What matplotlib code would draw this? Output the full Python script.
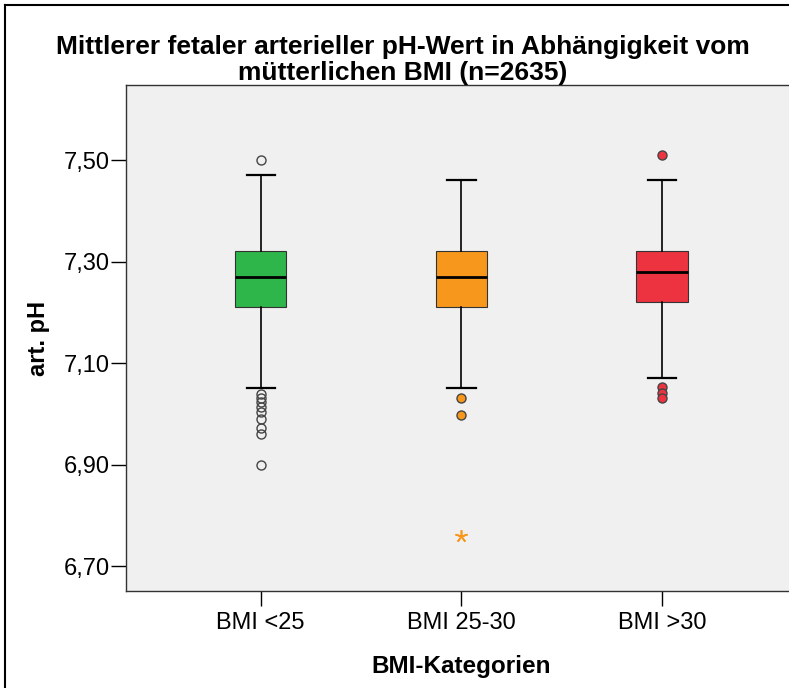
import matplotlib.pyplot as plt
from matplotlib.lines import Line2D

plt.rcParams['font.family'] = ['Liberation Sans', 'DejaVu Sans']

# Kategorien und Boxplot-Kennwerte (art. pH)
categories = ['BMI <25', 'BMI 25-30', 'BMI >30']
whislo = [7.05, 7.05, 7.07]
q1 = [7.21, 7.21, 7.22]
med = [7.27, 7.27, 7.28]
q3 = [7.32, 7.32, 7.32]
whishi = [7.47, 7.46, 7.46]
outliers = [
    [7.50, 7.039, 7.031, 7.023, 7.013, 7.003, 6.99, 6.972, 6.960, 6.899],
    [7.031, 6.998],
    [7.51, 7.052, 7.042, 7.032],
]
extremes = [[], [6.759], []]
colors = ['#2EB64A', '#F7981D', '#EE3340']
yticks = [6.70, 6.90, 7.10, 7.30, 7.50]

fig = plt.figure(figsize=(7.89, 6.88), dpi=100)
ax = fig.add_axes([126 / 789, 1 - 591 / 688, 1 - 126 / 789 + 0.01, (591 - 85) / 688])
ax.set_facecolor('#F0F0F0')

stats = []
for i in range(3):
    stats.append(dict(whislo=whislo[i], q1=q1[i], med=med[i], q3=q3[i],
                      whishi=whishi[i], fliers=[], label=categories[i]))

bp = ax.bxp(stats, positions=[1, 2, 3], widths=0.257, patch_artist=True,
            showfliers=False,
            boxprops=dict(linewidth=0.8, edgecolor='#333333'),
            medianprops=dict(color='black', linewidth=2),
            whiskerprops=dict(color='black', linewidth=1.2),
            capprops=dict(color='black', linewidth=1.6), capwidths=0.14)
for patch, c in zip(bp['boxes'], colors):
    patch.set_facecolor(c)

for i in range(3):
    ys = outliers[i]
    fc = 'none' if i == 0 else colors[i]
    ax.plot([i + 1] * len(ys), ys, 'o', ms=6.5, mfc=fc, mec='#444444', mew=1.0,
            zorder=3)
    if extremes[i]:
        ax.plot([i + 1] * len(extremes[i]), extremes[i], marker=(5, 2, 0),
                ms=9, ls='none', color=colors[i], mew=1.2, zorder=3)

ax.set_xlim(0.33, 3.67)
ax.set_ylim(6.651, 7.648)
ax.set_yticks(yticks)
ax.set_yticklabels([f'{v:.2f}'.replace('.', ',') for v in yticks], fontsize=17)
ax.set_xticks([1, 2, 3])
ax.set_xticklabels(categories, fontsize=17)
ax.tick_params(axis='y', length=11, width=1, pad=0.5)
ax.tick_params(axis='x', length=11, width=1, pad=4)
for s in ax.spines.values():
    s.set_linewidth(1.0)
    s.set_color('#333333')

ax.set_ylabel('art. pH', fontsize=17, fontweight='bold', labelpad=10)
ax.set_xlabel('BMI-Kategorien', fontsize=17.5, fontweight='bold', labelpad=15)
fig.suptitle('Mittlerer fetaler arterieller pH-Wert in Abhängigkeit vom\nmütterlichen BMI (n=2635)',
             x=403 / 789, y=1 - 35 / 688, va='top', fontsize=19, fontweight='bold',
             linespacing=1.1)

# Rahmen links und oben
fig.add_artist(Line2D([5 / 789, 5 / 789], [0, 1 - 5 / 688], color='black', lw=1.5))
fig.add_artist(Line2D([5 / 789, 1], [1 - 5 / 688, 1 - 5 / 688], color='black', lw=1.5))

fig.savefig('out.png', dpi=100)
